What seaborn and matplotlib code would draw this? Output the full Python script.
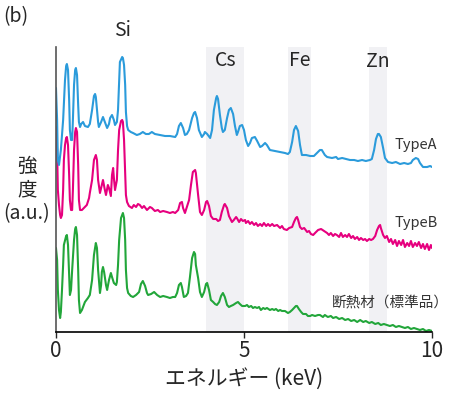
import numpy as np
import pandas as pd
import seaborn as sns
import matplotlib
matplotlib.use("Agg")
import matplotlib.pyplot as plt

# EDX spectra: energy (keV) and intensity (a.u., stacked display)
typeA_keV = [0.00, 0.03, 0.05, 0.08, 0.13, 0.19, 0.24, 0.27, 0.29, 0.32, 0.35, 0.37, 0.40, 0.43, 0.45, 0.48,
             0.51, 0.53, 0.56, 0.59, 0.61, 0.64, 0.67, 0.72, 0.77, 0.85, 0.90, 0.96, 1.01, 1.04, 1.06, 1.09,
             1.12, 1.14, 1.20, 1.25, 1.30, 1.36, 1.41, 1.44, 1.49, 1.54, 1.57, 1.62, 1.65, 1.68, 1.70, 1.76,
             1.78, 1.81, 1.84, 1.86, 1.89, 1.92, 1.99, 2.05, 2.15, 2.23, 2.31, 2.39, 2.47, 2.55, 2.63, 2.77,
             2.90, 3.03, 3.17, 3.22, 3.27, 3.32, 3.38, 3.43, 3.48, 3.54, 3.62, 3.67, 3.70, 3.75, 3.80, 3.88,
             3.94, 3.96, 4.02, 4.10, 4.15, 4.20, 4.26, 4.28, 4.31, 4.36, 4.41, 4.44, 4.49, 4.55, 4.60, 4.65,
             4.71, 4.76, 4.81, 4.84, 4.89, 4.95, 5.00, 5.05, 5.11, 5.16, 5.21, 5.29, 5.35, 5.43, 5.48, 5.56,
             5.61, 5.69, 5.82, 5.96, 6.09, 6.17, 6.22, 6.28, 6.33, 6.38, 6.44, 6.49, 6.54, 6.65, 6.76, 6.86,
             6.94, 7.02, 7.07, 7.15, 7.21, 7.34, 7.45, 7.50, 7.61, 7.71, 7.82, 7.93, 8.03, 8.14, 8.24, 8.35,
             8.40, 8.46, 8.51, 8.56, 8.59, 8.64, 8.70, 8.75, 8.83, 8.94, 9.04, 9.15, 9.26, 9.36, 9.44, 9.49,
             9.57, 9.63, 9.68, 9.76, 9.87, 9.95, 10.00]
typeA_int = [244, 212, 172, 167, 182, 212, 252, 266, 268, 262, 232, 202, 192, 192, 212, 247,
             262, 264, 257, 227, 210, 205, 208, 210, 206, 205, 208, 222, 236, 238, 235, 222,
             210, 205, 210, 215, 210, 204, 208, 214, 217, 212, 207, 210, 222, 252, 270, 275,
             274, 267, 247, 220, 206, 202, 200, 199, 197, 198, 200, 198, 198, 200, 198, 197,
             196, 196, 195, 198, 206, 209, 204, 197, 198, 202, 214, 219, 220, 214, 202, 195,
             198, 200, 198, 194, 202, 222, 234, 236, 233, 217, 204, 200, 202, 214, 222, 224,
             218, 206, 197, 200, 206, 207, 202, 192, 186, 189, 194, 195, 191, 185, 186, 189,
             187, 182, 181, 180, 179, 178, 180, 190, 202, 206, 201, 187, 177, 177, 176, 176,
             179, 182, 182, 177, 175, 174, 175, 173, 174, 173, 172, 172, 171, 172, 171, 172,
             173, 182, 193, 198, 198, 195, 184, 174, 170, 169, 170, 168, 169, 168, 169, 172,
             174, 173, 169, 165, 165, 166, 165]

typeB_keV = [0.00, 0.03, 0.05, 0.08, 0.11, 0.13, 0.16, 0.19, 0.21, 0.24, 0.27, 0.29, 0.32, 0.35, 0.37, 0.40,
             0.43, 0.45, 0.48, 0.51, 0.53, 0.56, 0.59, 0.61, 0.64, 0.69, 0.77, 0.82, 0.88, 0.90, 0.96, 1.01,
             1.06, 1.09, 1.12, 1.17, 1.20, 1.25, 1.30, 1.33, 1.38, 1.41, 1.46, 1.49, 1.52, 1.54, 1.57, 1.62,
             1.65, 1.68, 1.73, 1.76, 1.78, 1.81, 1.84, 1.86, 1.89, 1.94, 2.02, 2.07, 2.13, 2.18, 2.23, 2.29,
             2.34, 2.42, 2.50, 2.55, 2.63, 2.71, 2.77, 2.85, 2.95, 3.03, 3.11, 3.17, 3.25, 3.30, 3.35, 3.38,
             3.43, 3.48, 3.54, 3.59, 3.64, 3.70, 3.72, 3.78, 3.83, 3.88, 3.94, 3.99, 4.02, 4.07, 4.12, 4.18,
             4.26, 4.31, 4.36, 4.41, 4.47, 4.49, 4.55, 4.60, 4.68, 4.73, 4.79, 4.81, 4.87, 4.92, 4.97, 5.03,
             5.05, 5.11, 5.16, 5.21, 5.27, 5.32, 5.37, 5.43, 5.48, 5.53, 5.59, 5.64, 5.69, 5.75, 5.80, 5.88,
             5.96, 6.01, 6.06, 6.14, 6.20, 6.28, 6.33, 6.38, 6.41, 6.44, 6.49, 6.54, 6.60, 6.68, 6.73, 6.78,
             6.84, 6.89, 6.97, 7.05, 7.13, 7.21, 7.26, 7.31, 7.37, 7.42, 7.47, 7.53, 7.58, 7.63, 7.69, 7.74,
             7.79, 7.85, 7.90, 7.95, 8.01, 8.06, 8.11, 8.17, 8.22, 8.27, 8.33, 8.38, 8.43, 8.49, 8.54, 8.59,
             8.62, 8.64, 8.70, 8.75, 8.80, 8.86, 8.91, 8.96, 9.02, 9.07, 9.12, 9.18, 9.23, 9.28, 9.34, 9.39,
             9.44, 9.49, 9.55, 9.60, 9.65, 9.71, 9.76, 9.81, 9.87, 9.92, 9.97, 10.00]
typeB_int = [205, 182, 142, 127, 117, 114, 117, 142, 172, 187, 194, 195, 187, 157, 132, 122,
             122, 142, 182, 200, 204, 200, 167, 132, 122, 122, 125, 127, 134, 139, 152, 172,
             177, 172, 152, 139, 144, 152, 142, 137, 147, 144, 136, 157, 164, 154, 142, 152,
             182, 202, 211, 212, 210, 192, 157, 137, 130, 126, 124, 127, 125, 128, 127, 124,
             126, 122, 125, 124, 121, 122, 120, 121, 120, 119, 120, 119, 122, 129, 130, 124,
             119, 125, 132, 147, 160, 162, 159, 137, 120, 117, 122, 130, 131, 126, 116, 113,
             113, 111, 112, 120, 127, 128, 124, 116, 110, 112, 115, 114, 110, 113, 111, 112,
             109, 111, 108, 110, 107, 109, 106, 108, 106, 109, 106, 108, 106, 108, 106, 107,
             104, 106, 103, 102, 104, 105, 110, 114, 115, 112, 105, 103, 104, 100, 101, 98,
             97, 99, 102, 103, 101, 99, 97, 99, 96, 98, 97, 95, 99, 95, 97, 95,
             98, 94, 96, 93, 95, 92, 94, 92, 93, 91, 93, 92, 93, 96, 102, 106,
             107, 104, 97, 94, 96, 90, 93, 88, 92, 86, 91, 87, 92, 85, 89, 86,
             91, 85, 89, 86, 90, 84, 88, 83, 88, 82, 87, 84]

standard_keV = [0.00, 0.03, 0.05, 0.08, 0.11, 0.13, 0.16, 0.19, 0.21, 0.27, 0.29, 0.32, 0.35, 0.37, 0.40, 0.43,
                0.48, 0.51, 0.53, 0.56, 0.59, 0.61, 0.64, 0.69, 0.77, 0.85, 0.90, 0.96, 1.01, 1.06, 1.09, 1.12,
                1.17, 1.20, 1.22, 1.25, 1.28, 1.33, 1.36, 1.41, 1.46, 1.49, 1.54, 1.60, 1.62, 1.65, 1.68, 1.73,
                1.78, 1.81, 1.84, 1.86, 1.89, 1.92, 1.99, 2.05, 2.13, 2.21, 2.26, 2.31, 2.37, 2.42, 2.45, 2.53,
                2.61, 2.69, 2.77, 2.85, 2.95, 3.03, 3.11, 3.17, 3.22, 3.27, 3.32, 3.35, 3.40, 3.46, 3.51, 3.56,
                3.62, 3.67, 3.70, 3.72, 3.78, 3.83, 3.88, 3.94, 3.99, 4.02, 4.07, 4.12, 4.18, 4.23, 4.28, 4.34,
                4.39, 4.44, 4.49, 4.55, 4.60, 4.65, 4.71, 4.79, 4.84, 4.89, 4.95, 5.03, 5.08, 5.13, 5.19, 5.24,
                5.29, 5.35, 5.40, 5.45, 5.51, 5.56, 5.61, 5.69, 5.75, 5.80, 5.85, 5.91, 5.96, 6.01, 6.09, 6.17,
                6.22, 6.28, 6.33, 6.38, 6.41, 6.46, 6.52, 6.57, 6.65, 6.70, 6.76, 6.81, 6.89, 6.97, 7.02, 7.10,
                7.15, 7.23, 7.31, 7.37, 7.45, 7.53, 7.61, 7.69, 7.77, 7.85, 7.93, 8.01, 8.09, 8.17, 8.24, 8.33,
                8.40, 8.49, 8.57, 8.64, 8.72, 8.80, 8.88, 8.96, 9.04, 9.12, 9.20, 9.28, 9.36, 9.44, 9.52, 9.60,
                9.68, 9.76, 9.84, 9.92, 10.00]
standard_int = [84, 72, 42, 22, 14, 20, 42, 67, 87, 96, 97, 87, 57, 37, 42, 62,
                92, 103, 105, 97, 62, 32, 19, 22, 30, 34, 37, 52, 77, 89, 84, 62,
                39, 47, 60, 65, 60, 47, 42, 52, 59, 55, 49, 47, 50, 67, 92, 114,
                119, 114, 92, 62, 44, 39, 36, 35, 37, 40, 48, 51, 46, 39, 37, 38,
                40, 37, 35, 36, 35, 34, 35, 35, 39, 47, 49, 45, 35, 36, 39, 54,
                74, 80, 78, 67, 54, 40, 35, 40, 48, 49, 42, 32, 30, 28, 27, 30,
                36, 39, 35, 27, 25, 26, 27, 29, 30, 28, 26, 26, 27, 25, 26, 24,
                25, 24, 25, 22, 24, 23, 24, 22, 23, 22, 23, 21, 22, 21, 21, 19,
                20, 22, 24, 26, 26, 23, 20, 18, 18, 16, 16, 17, 16, 17, 17, 15,
                17, 15, 16, 14, 15, 13, 14, 12, 13, 11, 12, 10, 12, 10, 11, 9,
                10, 8, 9, 7, 8, 7, 6, 7, 5, 6, 5, 4, 5, 3, 4, 3,
                2, 3, 1, 2, 1]

# element windows (keV)
elements = ["Cs", "Fe", "Zn"]
band_lo = [4.0, 6.17, 8.32]
band_hi = [5.0, 6.78, 8.80]

colors = {"TypeA": "#2b9bdb", "TypeB": "#e6007e", "std": "#22a63a"}

sns.set_style("white")
plt.rcParams["font.family"] = ["Noto Sans CJK JP", "DejaVu Sans"]

fig = plt.figure(figsize=(4.5, 3.95), dpi=100)
ax = fig.add_axes([0.1244, 0.1595, 0.8356, 0.7215])

for lo, hi in zip(band_lo, band_hi):
    ax.axvspan(lo, hi, color="#f1f1f4", lw=0, zorder=0)

sns.lineplot(x=standard_keV, y=standard_int, color=colors["std"], linewidth=1.5, ax=ax)
sns.lineplot(x=typeB_keV, y=typeB_int, color=colors["TypeB"], linewidth=1.5, ax=ax)
sns.lineplot(x=typeA_keV, y=typeA_int, color=colors["TypeA"], linewidth=1.5, ax=ax)

ax.set_xlim(0, 10)
ax.set_ylim(0, 285)
ax.set_xticks([0, 5, 10])
ax.set_yticks([])
ax.tick_params(axis="x", direction="out", length=4, width=1, labelsize=15, pad=2, bottom=True)
for s in ["top", "right"]:
    ax.spines[s].set_visible(False)
ax.spines["left"].set_color("#555555")
ax.spines["bottom"].set_color("black")
ax.spines["left"].set_linewidth(1.2)
ax.spines["bottom"].set_linewidth(1.2)

ax.set_xlabel("エネルギー (keV)", fontsize=15, labelpad=4)
ax.set_ylabel("")

# element labels
ax.text(1.78, 302, "Si", fontsize=14, ha="center", va="center", clip_on=False)
ax.text(4.5, 272, "Cs", fontsize=14, ha="center", va="center")
ax.text(6.47, 272, "Fe", fontsize=14, ha="center", va="center")
ax.text(8.56, 271, "Zn", fontsize=14, ha="center", va="center")

# series labels
ax.text(9.57, 187, "TypeA", fontsize=10.5, ha="center", va="center", color="#333333", clip_on=False)
ax.text(9.57, 109, "TypeB", fontsize=10.5, ha="center", va="center", color="#333333", clip_on=False)
ax.text(8.9, 29, "断熱材（標準品）", fontsize=10.5, ha="center", va="center", color="#333333", clip_on=False)

fig.text(27 / 450, 1 - 190 / 395, "強\n度\n(a.u.)", fontsize=14, ha="center", va="center",
         multialignment="center", linespacing=1.15)
fig.text(16 / 450, 1 - 17 / 395, "(b)", fontsize=14, ha="center", va="center")

fig.savefig("out.png", dpi=100)
